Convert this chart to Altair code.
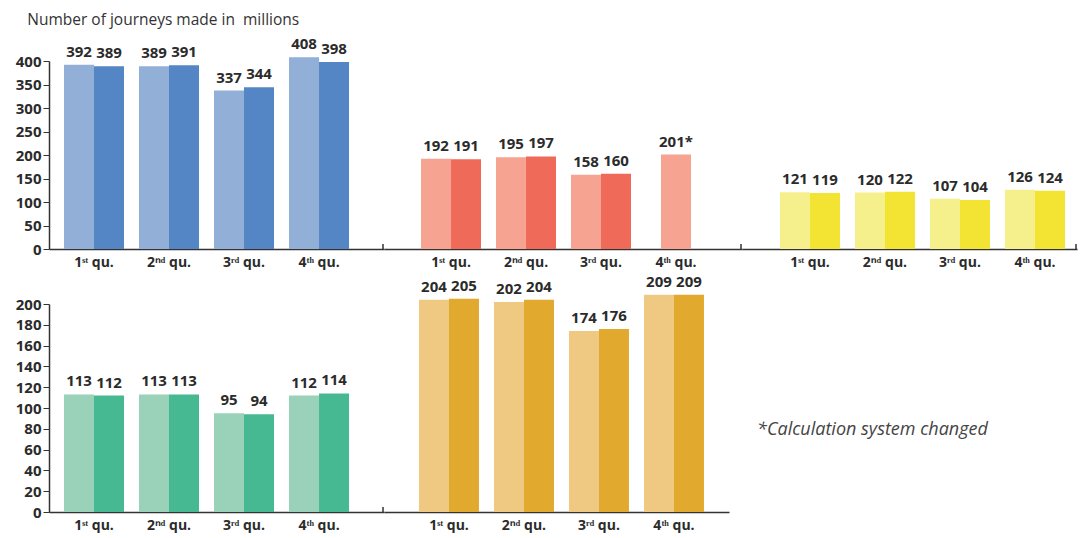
import altair as alt
import pandas as pd

quarter_labels = ["1ˢᵗ qu.", "2ⁿᵈ qu.", "3ʳᵈ qu.", "4ᵗʰ qu."]
series = ["prev", "curr"]

blue_prev = [392, 389, 337, 408]
blue_curr = [389, 391, 344, 398]
red_prev = [192, 195, 158, 201]
red_curr = [191, 197, 160, None]
red_notes = ["", "", "", "*"]
yellow_prev = [121, 120, 107, 126]
yellow_curr = [119, 122, 104, 124]
green_prev = [113, 113, 95, 112]
green_curr = [112, 113, 94, 114]
orange_prev = [204, 202, 174, 209]
orange_curr = [205, 204, 176, 209]

title_text = "Number of journeys made in\u00a0 millions"
footnote = "*Calculation system changed"

FONT = "Open Sans"
DARK = "#2b2b2b"


def frame(prev, curr, notes=None):
    rows = []
    for i, q in enumerate(quarter_labels):
        paired = curr[i] is not None
        for s, v in zip(series, [prev[i], curr[i]]):
            if v is None:
                continue
            lab = str(v) + (notes[i] if notes and s == "prev" else "")
            rows.append(dict(quarter=q, series=s, value=v, label=lab, paired=paired))
    return pd.DataFrame(rows)


def panel(df, width, height, ymax, ystep, pad_outer, align, light, dark, show_y, edge_tick=True):
    x = alt.X(
        "quarter:N",
        sort=quarter_labels,
        scale=alt.Scale(domain=quarter_labels, paddingInner=0.2, paddingOuter=pad_outer, align=align),
        axis=alt.Axis(
            title=None, ticks=False, labelAngle=0, labelFont=FONT, labelFontWeight="bold",
            labelFontSize=14, labelColor=DARK, labelPadding=6, domainColor="#333", domainWidth=1.5,
        ),
    )
    if show_y:
        yaxis = alt.Axis(
            title=None, values=list(range(0, ymax + 1, ystep)), grid=False, domainColor="#333",
            domainWidth=1.5, tickColor="#333", tickSize=6, labelFont=FONT, labelFontWeight="bold",
            labelFontSize=15, labelColor=DARK, labelPadding=2,
        )
    else:
        yaxis = None
    y = alt.Y("value:Q", scale=alt.Scale(domain=[0, ymax], nice=False, zero=True), axis=yaxis)
    color = alt.Color("series:N", scale=alt.Scale(domain=series, range=[light, dark]), legend=None)
    xo = alt.XOffset("series:N", sort=series, scale=alt.Scale(domain=series, paddingInner=0, paddingOuter=0))
    text_style = dict(baseline="bottom", dy=-5, font=FONT, fontWeight="bold", fontSize=15, color=DARK)

    base = alt.Chart(df)
    paired = base.transform_filter("datum.paired")
    layers = [
        paired.mark_bar().encode(x=x, y=y, color=color, xOffset=xo),
        paired.mark_text(**text_style).encode(x=x, y=y, xOffset=xo, text="label:N"),
    ]
    if not df["paired"].all():
        single = base.transform_filter("!datum.paired")
        layers.append(single.mark_bar(width=alt.RelativeBandSize(0.5)).encode(x=x, y=y, color=color))
        layers.append(single.mark_text(**text_style).encode(x=x, y=y, text="label:N"))
    if edge_tick:
        layers.append(
            alt.Chart(pd.DataFrame({"t": [0]})).mark_rule(color="#333", strokeWidth=1.5).encode(
                x=alt.value(width - 1), y=alt.value(height - 5), y2=alt.value(height)
            )
        )
    return alt.layer(*layers).properties(width=width, height=height)


blue = panel(frame(blue_prev, blue_curr), 335, 188, 400, 50, 0.333, 0.3, "#92afd8", "#5485c4", True)
red = panel(frame(red_prev, red_curr, red_notes), 358, 188, 400, 50, 0.487, 0.507, "#f6a391", "#f06a59", False)
yellow = panel(frame(yellow_prev, yellow_curr), 335, 188, 400, 50, 0.333, 0.76, "#f6f08c", "#f3e332", False)
green = panel(frame(green_prev, green_curr), 335, 208, 200, 20, 0.333, 0.3, "#9ad1b9", "#46b892", True)
orange = panel(frame(orange_prev, orange_curr), 345, 208, 200, 20, 0.4, 0.583, "#efc981", "#e2a92f", False, edge_tick=False)

note = alt.Chart(pd.DataFrame({"note": [footnote]})).mark_text(
    align="left", baseline="middle", font=FONT, fontStyle="italic", fontSize=18, color="#444"
).encode(x=alt.value(28), y=alt.value(126), text="note:N").properties(width=340, height=208)

res = dict(x="independent", y="independent", color="independent", xOffset="independent")
top = alt.hconcat(blue, red, yellow, spacing=0).resolve_scale(**res)
bottom = alt.hconcat(green, orange, note, spacing=0).resolve_scale(**res)

chart = alt.vconcat(top, bottom, spacing=5).properties(
    title=alt.TitleParams(
        title_text, anchor="start", font=FONT, fontSize=15.5, fontWeight="normal", color="#333", dx=12, offset=9
    ),
    padding={"left": 7, "top": 4, "right": 3, "bottom": 5},
).configure_view(stroke=None)

chart.save("out.html", embed_options={"renderer": "svg", "actions": False})
